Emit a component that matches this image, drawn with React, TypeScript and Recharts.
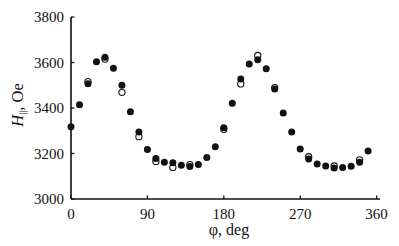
import { ScatterChart, Scatter, XAxis, YAxis, Label } from "recharts";

// angle φ (deg) and resonance field H|| (Oe)
const PHI = [
  0, 10, 20, 30, 40, 50, 60, 70, 80, 90, 100, 110, 120, 130, 140, 150, 160, 170,
  180, 190, 200, 210, 220, 230, 240, 250, 260, 270, 280, 290, 300, 310, 320, 330, 340, 350,
];
const H_FILLED = [
  3318, 3414, 3507, 3603, 3623, 3575, 3500, 3384, 3294, 3218, 3178, 3161, 3159, 3148, 3143, 3152, 3182, 3230,
  3313, 3421, 3527, 3593, 3612, 3572, 3483, 3378, 3295, 3220, 3176, 3154, 3145, 3136, 3139, 3144, 3161, 3211,
];
const PHI_OPEN = [20, 40, 60, 80, 100, 120, 140, 180, 200, 220, 240, 280, 310, 340];
const H_OPEN = [3516, 3615, 3469, 3274, 3165, 3139, 3151, 3307, 3506, 3631, 3490, 3186, 3145, 3172];

const X_TICKS = [0, 90, 180, 270, 360];
const Y_TICKS = [3000, 3200, 3400, 3600, 3800];

const filled = PHI.map((phi, i) => ({ phi, h: H_FILLED[i] }));
const open = PHI_OPEN.map((phi, i) => ({ phi, h: H_OPEN[i] }));

const FONT = "'Liberation Serif', 'Times New Roman', serif";

function YTick({ x, y, payload }: any) {
  return (
    <g>
      <line x1={x + 7} x2={x + 10.5} y1={y} y2={y} stroke="#111" strokeWidth={1.3} />
      <text x={x} y={y} dy="0.355em" textAnchor="end" fontFamily={FONT} fontSize={15} fill="#111">
        {payload.value}
      </text>
    </g>
  );
}

function XTick({ x, y, payload }: any) {
  return (
    <g>
      <line x1={x} x2={x} y1={y - 9} y2={y - 12.5} stroke="#111" strokeWidth={1.3} />
      <text x={x} y={y} dy="0.71em" textAnchor="middle" fontFamily={FONT} fontSize={15} fill="#111">
        {payload.value}
      </text>
    </g>
  );
}

const Dot = ({ cx, cy }: any) => <circle cx={cx} cy={cy} r={3.5} fill="#111" />;
const Ring = ({ cx, cy }: any) => (
  <circle cx={cx} cy={cy} r={3.1} fill="#fff" stroke="#111" strokeWidth={1.1} />
);

export default function App() {
  return (
    <div style={{ position: "absolute", left: 0, top: 0, background: "#fff" }}>
      <ScatterChart width={399} height={246} margin={{ top: 17, right: 19, bottom: 0, left: 0 }}>
        <XAxis
          type="number"
          dataKey="phi"
          domain={[0, 364]}
          ticks={X_TICKS}
          height={47}
          tickSize={0}
          tickMargin={9}
          tickLine={false}
          tick={<XTick />}
          axisLine={{ stroke: "#111", strokeWidth: 1.6 }}
        >
          <Label
            content={() => (
              <text x={229} y={235} textAnchor="middle" fontFamily={FONT} fontSize={16} fill="#111">
                φ, deg
              </text>
            )}
          />
        </XAxis>
        <YAxis
          type="number"
          dataKey="h"
          domain={[3000, 3800]}
          ticks={Y_TICKS}
          width={71}
          tickSize={0}
          tickMargin={7}
          tickLine={false}
          tick={<YTick />}
          axisLine={{ stroke: "#111", strokeWidth: 1.6 }}
        >
          <Label
            content={() => (
              <text
                x={23}
                y={105}
                textAnchor="middle"
                transform="rotate(-90, 23, 105)"
                fontFamily={FONT}
                fontSize={16.5}
                fill="#111"
              >
                <tspan fontStyle="italic">H</tspan>
                <tspan fontSize={10} dy={3}>||</tspan>
                <tspan dy={-3}>, Oe</tspan>
              </text>
            )}
          />
        </YAxis>
        <Scatter data={open} shape={<Ring />} isAnimationActive={false} />
        <Scatter data={filled} shape={<Dot />} isAnimationActive={false} />
      </ScatterChart>
    </div>
  );
}
